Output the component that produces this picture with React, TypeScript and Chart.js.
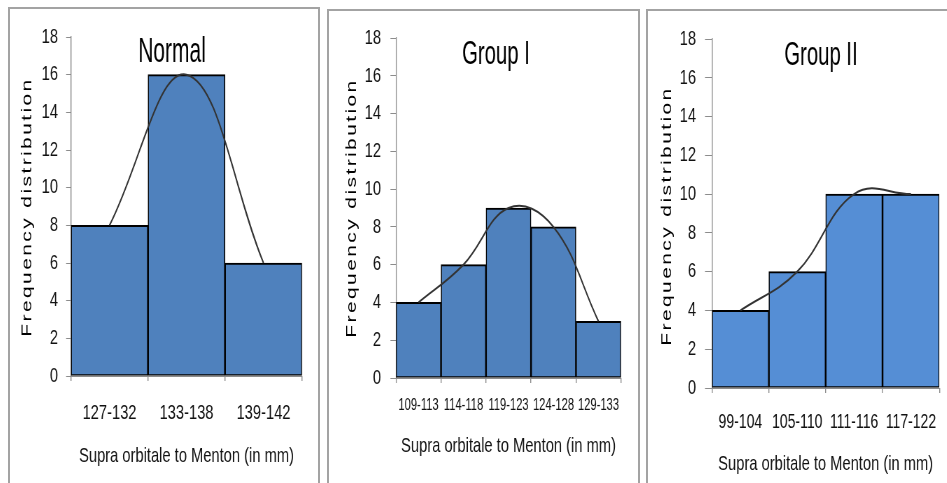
import React, { useEffect, useRef } from "react";
import { Chart, registerables } from "chart.js";

Chart.register(...registerables);

// ---------- data ----------
const normalLabels = ["127-132", "133-138", "139-142"];
const normalCounts = [8, 16, 6];

const group1Labels = ["109-113", "114-118", "119-123", "124-128", "129-133"];
const group1Counts = [4, 6, 9, 8, 3];

const group2Labels = ["99-104", "105-110", "111-116", "117-122"];
const group2Counts = [4, 6, 10, 10];

const yMin = 0;
const yMax = 18;
const yStep = 2;

const xAxisTitle = "Supra orbitale to Menton (in mm)";
const yAxisTitle = "Frequency distribution";

// ---------- layout ----------
const S = 0.7; // horizontal squeeze of the reference
const H = 483;
const FONT = '"Liberation Sans", Arial, sans-serif';

type Panel = {
  title: string;
  labels: string[];
  counts: number[];
  color: string;
  box: { left: number; top: number; width: number };
  canvasLeft: number;
  canvasW: number;
  padL: number;
  plotLeft: number;
  plotRight: number;
  plotTop: number;
  plotBottom: number;
  yTickLen: number;
  yTickPad: number;
  xTickSize: number;
  xTickPad: number;
  xTitlePad: number;
  yTitleX: number;
  yTitleY: number;
  titleX: number;
  titleY: number;
  titleSize: number;
};

const panels: Panel[] = [
  {
    title: "Normal",
    labels: normalLabels,
    counts: normalCounts,
    color: "#4F81BD",
    box: { left: 8, top: 7, width: 312 },
    canvasLeft: 11,
    canvasW: 440,
    padL: 30,
    plotLeft: 85.7,
    plotRight: 415.7,
    plotTop: 37,
    plotBottom: 376,
    yTickLen: 7,
    yTickPad: 11.6,
    xTickSize: 21,
    xTickPad: 19.4,
    xTitlePad: 14.4,
    yTitleX: 22.9,
    yTitleY: 207,
    titleX: 230,
    titleY: 52,
    titleSize: 30,
  },
  {
    title: "Group I",
    labels: group1Labels,
    counts: group1Counts,
    color: "#4F81BD",
    box: { left: 327, top: 9, width: 313 },
    canvasLeft: 330,
    canvasW: 440,
    padL: 40,
    plotLeft: 94.3,
    plotRight: 415.7,
    plotTop: 38,
    plotBottom: 378,
    yTickLen: 8,
    yTickPad: 13.4,
    xTickSize: 16,
    xTickPad: 13.4,
    xTitlePad: 24.4,
    yTitleX: 31.4,
    yTitleY: 208,
    titleX: 237.1,
    titleY: 55,
    titleSize: 29,
  },
  {
    title: "Group II",
    labels: group2Labels,
    counts: group2Counts,
    color: "#558ED5",
    box: { left: 646, top: 9, width: 312 },
    canvasLeft: 648,
    canvasW: 430,
    padL: 40,
    plotLeft: 91.4,
    plotRight: 418.6,
    plotTop: 39,
    plotBottom: 388,
    yTickLen: 10,
    yTickPad: 12.8,
    xTickSize: 20,
    xTickPad: 17,
    xTitlePad: 6.4,
    yTitleX: 27.1,
    yTitleY: 216,
    titleX: 247.1,
    titleY: 56,
    titleSize: 29,
  },
];

function PanelChart({ p }: { p: Panel }) {
  const ref = useRef<HTMLCanvasElement | null>(null);

  useEffect(() => {
    if (!ref.current) return;
    Chart.defaults.font.family = FONT;

    const textPlugin = {
      id: "panelText",
      afterDraw(chart: any) {
        const ctx = chart.ctx as CanvasRenderingContext2D;
        ctx.save();
        ctx.fillStyle = "#000";
        ctx.textAlign = "center";
        ctx.textBaseline = "middle";
        ctx.font = `${p.titleSize}px ${FONT}`;
        ctx.save();
        ctx.translate(p.titleX, p.titleY);
        ctx.scale(1, 1.15);
        ctx.fillText(p.title, 0, 0);
        ctx.restore();
        ctx.translate(p.yTitleX, p.yTitleY);
        ctx.rotate(-Math.PI / 2);
        ctx.font = `21px ${FONT}`;
        (ctx as any).letterSpacing = "2.4px";
        ctx.fillText(yAxisTitle, 0, 0);
        ctx.restore();
      },
    };

    const chart = new Chart(ref.current, {
      type: "bar",
      data: {
        labels: p.labels,
        datasets: [
          {
            type: "line",
            data: p.counts,
            borderColor: "#333333",
            borderWidth: 2,
            tension: 0.4,
            pointRadius: 0,
            fill: false,
            order: 0,
          } as any,
          {
            type: "bar",
            data: p.counts,
            backgroundColor: p.color,
            borderColor: "#000000",
            borderWidth: { top: 2, bottom: 1.5, left: 1.6, right: 1.6 },
            borderSkipped: false,
            categoryPercentage: 1,
            barPercentage: 1,
            order: 1,
          } as any,
        ],
      },
      options: {
        animation: false,
        responsive: false,
        devicePixelRatio: 1,
        layout: {
          padding: {
            left: p.padL,
            right: p.canvasW - p.plotRight,
            top: p.plotTop,
            bottom: 0,
          },
        },
        plugins: {
          legend: { display: false },
          tooltip: { enabled: false },
          title: { display: false },
        },
        scales: {
          x: {
            type: "category",
            offset: true,
            grid: {
              display: true,
              offset: true,
              drawOnChartArea: false,
              drawTicks: true,
              tickLength: 5,
              color: "#8c8c8c",
              lineWidth: 1.4,
            },
            border: { display: true, color: "#8c8c8c", width: 1 },
            ticks: {
              color: "#111",
              font: { size: p.xTickSize, family: FONT },
              padding: p.xTickPad,
              maxRotation: 0,
              autoSkip: false,
            },
            title: {
              display: true,
              text: xAxisTitle,
              color: "#111",
              font: { size: 21, family: FONT },
              padding: { top: 0, bottom: p.xTitlePad },
            },
            afterFit: (s: any) => {
              s.height = H - p.plotBottom;
            },
          },
          y: {
            min: yMin,
            max: yMax,
            ticks: {
              stepSize: yStep,
              color: "#111",
              font: { size: 21, family: FONT },
              padding: p.yTickPad,
            },
            grid: {
              drawOnChartArea: false,
              drawTicks: true,
              tickLength: p.yTickLen,
              color: "#8c8c8c",
              lineWidth: 1,
            },
            border: { display: true, color: "#8c8c8c", width: 1.4 },
            afterFit: (s: any) => {
              s.width = p.plotLeft - p.padL;
            },
          },
        },
      } as any,
      plugins: [textPlugin],
    });

    return () => chart.destroy();
  }, [p]);

  return (
    <div
      style={{
        position: "absolute",
        left: p.canvasLeft,
        top: 0,
        width: p.canvasW,
        height: H,
        transform: `scaleX(${S})`,
        transformOrigin: "0 0",
      }}
    >
      <canvas ref={ref} width={p.canvasW} height={H} style={{ display: "block" }} />
    </div>
  );
}

export default function App() {
  return (
    <div
      style={{
        position: "absolute",
        left: 0,
        top: 0,
        width: 947,
        height: H,
        overflow: "hidden",
        background: "#fff",
      }}
    >
      {panels.map((p, i) => (
        <div
          key={"box" + i}
          style={{
            position: "absolute",
            left: p.box.left,
            top: p.box.top,
            width: p.box.width,
            height: 520,
            boxSizing: "border-box",
            border: "2px solid #a3a3a3",
            background: "#fff",
          }}
        />
      ))}
      {panels.map((p, i) => (
        <PanelChart key={"c" + i} p={p} />
      ))}
    </div>
  );
}
